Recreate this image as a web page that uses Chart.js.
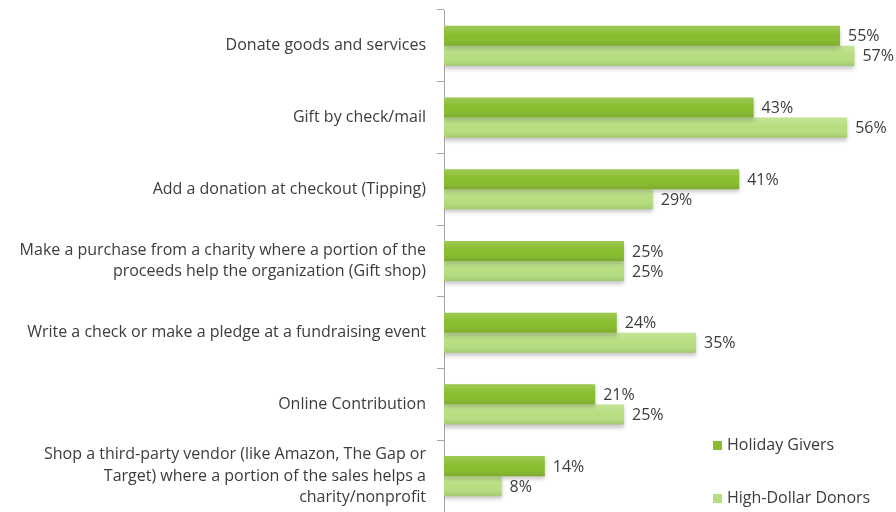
<!DOCTYPE html>
<html>
<head>
<meta charset="utf-8">
<script src="https://cdn.jsdelivr.net/npm/chart.js@4/dist/chart.umd.min.js"></script>
<style>
  html, body { margin: 0; padding: 0; background: #fff; }
  #wrap { width: 896px; height: 512px; position: relative; }
</style>
</head>
<body>
<div id="wrap"><canvas id="chart"></canvas></div>
<script>
const categories = [
    'Donate goods and services',
    'Gift by check/mail',
    'Add a donation at checkout (Tipping)',
    ['Make a purchase from a charity where a portion of the', 'proceeds help the organization (Gift shop)'],
    'Write a check or make a pledge at a fundraising event',
    'Online Contribution',
    ['Shop a third-party vendor (like Amazon, The Gap or', 'Target) where a portion of the sales helps a', 'charity/nonprofit']
];
const seriesNames = ['Holiday Givers', 'High-Dollar Donors'];
const holidayGivers = [55, 43, 41, 25, 24, 21, 14];
const highDollarDonors = [57, 56, 29, 25, 35, 25, 8];

const FONT = '"Open Sans", Lato, sans-serif';
const TEXT = '#3c3c3c';
const colors = ['#88bd2e', '#b6de7e'];

// soft shadow under bars plus a light top-to-bottom shading
const barStyle = {
    id: 'barStyle',
    beforeDatasetDraw(chart) {
        const ctx = chart.ctx;
        ctx.save();
        ctx.shadowColor = 'rgba(0,0,0,0.22)';
        ctx.shadowOffsetY = 3;
        ctx.shadowBlur = 4;
    },
    afterDatasetDraw(chart) {
        chart.ctx.restore();
    },
    afterDatasetsDraw(chart) {
        const ctx = chart.ctx;
        ctx.save();
        chart.data.datasets.forEach((ds, i) => {
            chart.getDatasetMeta(i).data.forEach(bar => {
                const top = bar.y - bar.height / 2;
                const g = ctx.createLinearGradient(0, top, 0, top + bar.height);
                g.addColorStop(0, 'rgba(255,255,255,0.18)');
                g.addColorStop(0.5, 'rgba(255,255,255,0)');
                g.addColorStop(1, 'rgba(0,0,0,0.10)');
                ctx.fillStyle = g;
                ctx.fillRect(bar.base, top, bar.x - bar.base, bar.height);
            });
        });
        ctx.restore();
    }
};

const valueLabels = {
    id: 'valueLabels',
    afterDatasetsDraw(chart) {
        const ctx = chart.ctx;
        ctx.save();
        ctx.font = '16px ' + FONT;
        ctx.fillStyle = TEXT;
        ctx.textAlign = 'left';
        ctx.textBaseline = 'middle';
        chart.data.datasets.forEach((ds, i) => {
            chart.getDatasetMeta(i).data.forEach((bar, j) => {
                ctx.fillText(ds.data[j] + '%', bar.x + 8, bar.y + 1);
            });
        });
        ctx.restore();
    }
};

const sideLegend = {
    id: 'sideLegend',
    afterDraw(chart) {
        const ctx = chart.ctx;
        ctx.save();
        ctx.font = '16px ' + FONT;
        ctx.textBaseline = 'middle';
        ctx.textAlign = 'left';
        const rows = [445, 498];
        chart.data.datasets.forEach((ds, i) => {
            ctx.fillStyle = ds.backgroundColor;
            ctx.fillRect(713, rows[i] - 4, 9, 9);
            ctx.fillStyle = TEXT;
            ctx.fillText(ds.label, 727, rows[i]);
        });
        ctx.restore();
    }
};

new Chart(document.getElementById('chart'), {
    type: 'bar',
    data: {
        labels: categories,
        datasets: [
            { label: seriesNames[0], data: holidayGivers, backgroundColor: colors[0] },
            { label: seriesNames[1], data: highDollarDonors, backgroundColor: colors[1] }
        ]
    },
    options: {
        indexAxis: 'y',
        responsive: true,
        maintainAspectRatio: false,
        animation: false,
        layout: { padding: { top: 10, right: 20, bottom: 0, left: 0 } },
        datasets: {
            bar: { categoryPercentage: 0.56, barPercentage: 1.0 }
        },
        scales: {
            x: { display: false, min: 0, max: 60 },
            y: {
                afterFit(scale) {
                    scale.width = 444;
                    scale.paddingTop = 0;
                    scale.paddingBottom = 0;
                },
                border: { display: true, color: '#a6a6a6', width: 1 },
                grid: {
                    offset: true,
                    drawOnChartArea: false,
                    drawTicks: true,
                    tickLength: 7,
                    color: '#a6a6a6'
                },
                ticks: {
                    padding: 11,
                    color: TEXT,
                    font: { family: FONT, size: 16, lineHeight: 1.34 }
                }
            }
        },
        plugins: {
            legend: { display: false },
            tooltip: { enabled: false }
        }
    },
    plugins: [barStyle, valueLabels, sideLegend]
});
</script>
</body>
</html>
